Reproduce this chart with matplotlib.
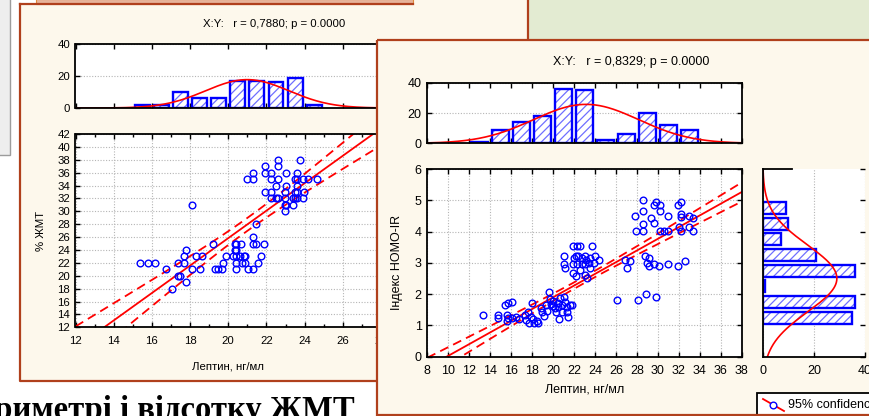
import numpy as np
import matplotlib
matplotlib.use('Agg')
import matplotlib.pyplot as plt
from matplotlib.patches import Rectangle
from matplotlib.ticker import MultipleLocator

plt.rcParams['font.family'] = ['Liberation Sans', 'DejaVu Sans']
plt.rcParams['hatch.linewidth'] = 0.9

# --- leptin vs % body fat ---
lep_a = [15.39, 15.79, 16.18, 16.75, 17.05, 17.37, 17.37, 17.49, 17.68, 17.68,
         17.79, 17.79, 18.10, 18.10, 18.33, 18.50, 18.60, 19.20, 19.30, 19.47,
         19.65, 19.72, 19.86, 20.26, 20.35, 20.35, 20.42, 20.42, 20.42, 20.42,
         20.42, 20.67, 20.60, 20.74, 20.82, 20.88, 20.88, 21.05, 21.30, 21.30,
         21.30, 21.47, 21.47, 21.54, 21.70, 21.88, 20.98, 21.30, 21.30, 21.93,
         21.93, 21.93, 22.26, 22.26, 22.26, 22.26, 22.50, 22.50, 22.60, 22.60,
         22.60, 22.60, 23.05, 23.05, 22.98, 22.98, 22.98, 22.98, 23.05, 23.37,
         23.37, 23.50, 23.60, 23.60, 23.60, 23.60, 23.60, 23.50, 23.50, 23.77,
         23.93, 23.93, 23.96, 24.20, 24.65]
fat_pct = [22, 22, 22, 21, 18, 22, 20, 20, 23, 22,
           24, 19, 31, 21, 23, 21, 23, 25, 21, 21,
           21, 22, 23, 23, 25, 24, 23, 22, 21, 24,
           25, 25, 23, 22, 23, 22, 23, 21, 21, 26,
           25, 25, 28, 22, 23, 25, 35, 35, 36, 37,
           36, 33, 36, 35, 33, 32, 34, 32, 38, 37,
           35, 32, 36, 34, 33, 32, 31, 30, 31, 31,
           32, 35, 36, 35, 34, 33, 32, 33, 32, 38,
           35, 32, 33, 35, 35]
lep_a_bins = [15, 16, 17, 18, 19, 20, 21, 22, 23, 24]
lep_a_counts = [2, 2, 10, 6, 6, 17, 17, 16, 19, 2]
# regression line (intercept, slope) and 95% band (centre, half-width at centre, spread)
fit_a = (-16.76, 2.13)
band_a = (21.0, 1.0, 0.353)

# --- leptin vs HOMA-IR ---
lep_b = [13.35, 14.78, 14.78, 15.42, 15.74, 16.09, 15.58, 15.74, 15.60, 16.06,
         16.44, 16.79, 17.33, 17.65, 17.40, 17.72, 17.97, 18.07, 18.22, 18.54,
         18.44, 17.87,
         18.83, 18.93, 19.15, 19.40, 19.34, 19.62, 19.72, 19.78, 19.97, 20.20,
         20.30, 20.43, 20.61, 20.67, 20.83, 20.83, 21.06, 21.15, 21.31, 21.37,
         21.47, 21.63, 21.80, 20.03, 20.50,
         21.95, 22.27, 22.60, 23.70, 21.07, 22.20, 22.42, 23.06, 24.02, 21.00,
         21.90, 22.27, 22.74, 23.06, 23.40, 23.86, 24.43, 21.15, 21.90, 22.20,
         22.60, 23.06, 23.20, 23.54, 23.50, 23.15, 22.74, 21.97,
         26.88, 27.30, 27.10,
         27.84, 27.90, 28.54, 28.54, 28.54, 28.54, 29.33, 29.60, 29.60, 29.84,
         30.16, 30.16, 30.96, 30.16, 30.54, 30.96, 31.91, 32.23, 32.23, 32.23,
         31.97, 32.23, 32.93, 33.35, 32.93, 33.35,
         28.82, 29.20, 28.95, 29.20, 29.65, 30.08, 30.96, 31.91, 32.60,
         26.09, 28.07, 28.87, 29.83]
homa = [1.32, 1.32, 1.25, 1.65, 1.71, 1.76, 1.33, 1.25, 1.15, 1.25,
        1.28, 1.20, 1.33, 1.42, 1.16, 1.07, 1.71, 1.20, 1.07, 1.07,
        1.14, 1.28,
        1.55, 1.44, 1.31, 1.46, 1.65, 2.08, 1.84, 1.67, 1.78, 1.57,
        1.44, 1.71, 1.20, 1.87, 1.44, 1.65, 1.92, 1.76, 1.60, 1.42,
        1.28, 1.65, 1.65, 1.63, 1.60,
        3.55, 3.55, 3.55, 3.55, 3.22, 3.22, 3.22, 3.22, 3.22, 2.95,
        2.95, 2.95, 2.95, 2.95, 2.98, 2.98, 3.09, 2.82, 2.66, 2.58,
        2.77, 2.61, 2.52, 2.82, 3.14, 3.09, 3.14, 3.14,
        3.09, 3.06, 2.82,
        4.51, 4.02, 5.01, 4.67, 4.23, 4.02, 4.42, 4.28, 4.85, 4.95,
        4.85, 4.66, 4.51, 4.02, 4.02, 4.02, 4.85, 4.95, 4.55, 4.47,
        4.13, 4.02, 4.51, 4.44, 4.13, 4.02,
        3.22, 3.16, 2.98, 2.90, 2.95, 2.90, 2.95, 2.90, 3.06,
        1.81, 1.81, 2.02, 1.92]
lep_b_bins = [12, 14, 16, 18, 20, 22, 24, 26, 28, 30, 32]
lep_b_counts = [1, 9, 14, 18, 36, 35, 2, 6, 20, 12, 9]
homa_bins = [1.0, 1.5, 2.0, 2.5, 3.0, 3.5, 4.0, 4.5]
homa_counts = [35, 36, 1, 36, 21, 7, 10, 9]
fit_b = (-1.842, 0.187)
band_b = (23.2, 0.1, 0.0195)

W, H = 870, 416
PANEL = '#fdf8ec'
FRAME = '#b0401c'
BLUE = '#0000ff'
HATCH = '#6f6fff'
RED = '#ff0000'
GRID = '#b5b5b5'
DASH = (0, (5, 3))

fig = plt.figure(figsize=(W / 100, H / 100), dpi=100)
fig.patch.set_facecolor('white')


def px_axes(x0, y0, x1, y1, z):
    ax = fig.add_axes([x0 / W, 1 - y1 / H, (x1 - x0) / W, (y1 - y0) / H])
    ax.set_zorder(z)
    return ax


def layer(z):
    ax = px_axes(0, 0, W, H, z)
    ax.set_xlim(0, W)
    ax.set_ylim(H, 0)
    ax.axis('off')
    return ax


def style(ax, fs, pad):
    ax.set_facecolor('white')
    for s in ax.spines.values():
        s.set_linewidth(1.3)
    ax.tick_params(which='both', direction='in', top=True, right=True,
                   labelsize=fs, width=1, pad=pad)
    ax.tick_params(which='major', length=3.5)
    ax.tick_params(which='minor', length=2.5)
    ax.set_axisbelow(True)


def normal_curve(centers, counts, width, grid):
    c = np.asarray(counts, float)
    m = np.asarray(centers, float)
    n = c.sum()
    mu = (c * m).sum() / n
    sd = np.sqrt((c * (m - mu) ** 2).sum() / n)
    return n * width / (sd * np.sqrt(2 * np.pi)) * np.exp(-0.5 * ((grid - mu) / sd) ** 2)


def draw_fit(ax, grid, fit, band):
    a, b = fit
    xm, h0, k = band
    line = a + b * grid
    half = np.sqrt(h0 ** 2 + (k * (grid - xm)) ** 2)
    ax.plot(grid, line, color=RED, lw=1.3)
    ax.plot(grid, line - half, color=RED, lw=1.3, ls=DASH)
    ax.plot(grid, line + half, color=RED, lw=1.3, ls=DASH)


def hatched_bars(ax, pos, size, width, horizontal=False):
    draw = ax.barh if horizontal else ax.bar
    kw = dict(height=width) if horizontal else dict(width=width)
    draw(pos, size, facecolor='white', edgecolor=HATCH, hatch='////', lw=0, **kw)
    draw(pos, size, fill=False, edgecolor=BLUE, lw=1.7, **kw)


# ---------- background ----------
bg = layer(0)
bg.add_patch(Rectangle((-5, -5), 15, 160, facecolor='#eeeeee', edgecolor='#9c9c9c', lw=1))
bg.add_patch(Rectangle((413, 0), 460, 40, facecolor='#e3ebd2', lw=0))
bg.add_patch(Rectangle((20, 4), 508, 377, facecolor=PANEL, lw=0))
bg.add_patch(Rectangle((413, 0), 115, 5, facecolor=PANEL, lw=0))
bg.add_patch(Rectangle((36, -1), 377, 5, facecolor='#e7b39a', edgecolor='#e08a3c', lw=0.8))
bg.plot([20, 20, 376], [4, 381, 381], color=FRAME, lw=1.6)
bg.plot([20, 413], [4, 4], color=FRAME, lw=1.6)
bg.plot([528, 528], [0, 40], color=FRAME, lw=1.6)
bg.text(274.5, 24, 'X:Y:   r = 0,7880; p = 0.0000', ha='center', va='center', fontsize=8.2)
bg.text(41.5, 230.5, '% ЖМТ', rotation=90, ha='center', va='center', fontsize=8.2)
bg.text(228.5, 366.5, 'Лептин, нг/мл', ha='center', va='center', fontsize=8.2)
bg.text(355, 419, 'периметрі і відсотку ЖМТ', ha='right', va='baseline',
        fontsize=23.5, fontweight='bold', family='Liberation Serif')

# ---------- left chart ----------
xa = np.linspace(12, 28, 300)

ah = px_axes(75.5, 44, 381, 108, 1)
style(ah, 8.2, 4)
hatched_bars(ah, np.array(lep_a_bins) + 0.5, lep_a_counts, 0.78)
ah.plot(xa, normal_curve(np.array(lep_a_bins) + 0.5, lep_a_counts, 1, xa), color=RED, lw=1.2)
ah.set_xlim(12, 28)
ah.set_ylim(0, 40)
ah.set_yticks([0, 20, 40])
ah.xaxis.set_major_locator(MultipleLocator(2))
ah.tick_params(axis='x', labelbottom=False)
ah.grid(axis='y', ls=(0, (1, 1.5)), color=GRID, lw=0.8)

asc = px_axes(75.5, 134, 381, 327.3, 1)
style(asc, 8.2, 4)
asc.set_xlim(12, 28)
asc.set_ylim(12, 42)
asc.xaxis.set_major_locator(MultipleLocator(2))
asc.xaxis.set_minor_locator(MultipleLocator(1))
asc.yaxis.set_major_locator(MultipleLocator(2))
asc.tick_params(axis='x', pad=6)
asc.grid(which='major', ls=(0, (1, 1.5)), color=GRID, lw=0.8)
draw_fit(asc, xa, fit_a, band_a)
asc.plot(lep_a, fat_pct, 'o', mfc='none', mec=BLUE, ms=4.8, mew=1.0)

# ---------- right panel ----------
fg = layer(2)
fg.add_patch(Rectangle((376.7, 40), 500, 375, facecolor=PANEL, lw=0))
fg.add_patch(Rectangle((757, 393), 130, 40, facecolor='white', edgecolor='black', lw=1.3))
fg.plot([763, 784], [399, 411], color=RED, lw=1.3)
fg.plot([773.5], [405], 'o', mfc='white', mec=BLUE, ms=4.8, mew=1.0)
fg.text(788, 405, '95% confidence', ha='left', va='center', fontsize=9)
fg.add_patch(Rectangle((376.7, 40), 500, 375, fill=False, edgecolor=FRAME, lw=1.6))
fg.text(631, 62, 'X:Y:   r = 0,8329; p = 0.0000', ha='center', va='center', fontsize=9)
fg.text(397.5, 262.8, 'Індекс HOMO-IR', rotation=90, ha='center', va='center', fontsize=9)
fg.text(584.5, 389.5, 'Лептин, нг/мл', ha='center', va='center', fontsize=9)

xb = np.linspace(8, 38, 300)
yb = np.linspace(0, 6, 300)

bh = px_axes(427.3, 82.7, 741.7, 143.3, 3)
style(bh, 9, 4)
hatched_bars(bh, np.array(lep_b_bins) + 1, lep_b_counts, 1.6)
bh.plot(xb, normal_curve(np.array(lep_b_bins) + 1, lep_b_counts, 2, xb), color=RED, lw=1.2)
bh.set_xlim(8, 38)
bh.set_ylim(0, 40)
bh.set_yticks([0, 20, 40])
bh.xaxis.set_major_locator(MultipleLocator(2))
bh.tick_params(axis='x', labelbottom=False)
bh.grid(axis='y', ls=(0, (1, 1.5)), color=GRID, lw=0.8)

bsc = px_axes(427.3, 169, 741.7, 356.7, 3)
style(bsc, 9, 4)
bsc.set_xlim(8, 38)
bsc.set_ylim(0, 6)
bsc.xaxis.set_major_locator(MultipleLocator(2))
bsc.yaxis.set_major_locator(MultipleLocator(1))
bsc.tick_params(axis='x', pad=6)
bsc.grid(which='major', ls=(0, (1, 1.5)), color=GRID, lw=0.8)
draw_fit(bsc, xb, fit_b, band_b)
bsc.plot(lep_b, homa, 'o', mfc='none', mec=BLUE, ms=4.8, mew=1.0)

sh = px_axes(762.7, 169, 865, 356.7, 3)
style(sh, 9, 4)
hatched_bars(sh, np.array(homa_bins) + 0.25, homa_counts, 0.38, horizontal=True)
sh.plot(normal_curve(np.array(homa_bins) + 0.25, homa_counts, 0.5, yb), yb, color=RED, lw=1.2)
sh.set_xlim(0, 40)
sh.set_ylim(0, 6)
sh.set_xticks([0, 20, 40])
sh.yaxis.set_major_locator(MultipleLocator(1))
sh.tick_params(axis='y', left=False, labelleft=False)
sh.tick_params(axis='x', top=False, pad=6)
sh.spines['right'].set_visible(False)
sh.spines['top'].set_bounds(0, 11.5)
sh.grid(axis='x', ls=(0, (1, 1.5)), color=GRID, lw=0.8)

fig.savefig('out.png', dpi=100)
